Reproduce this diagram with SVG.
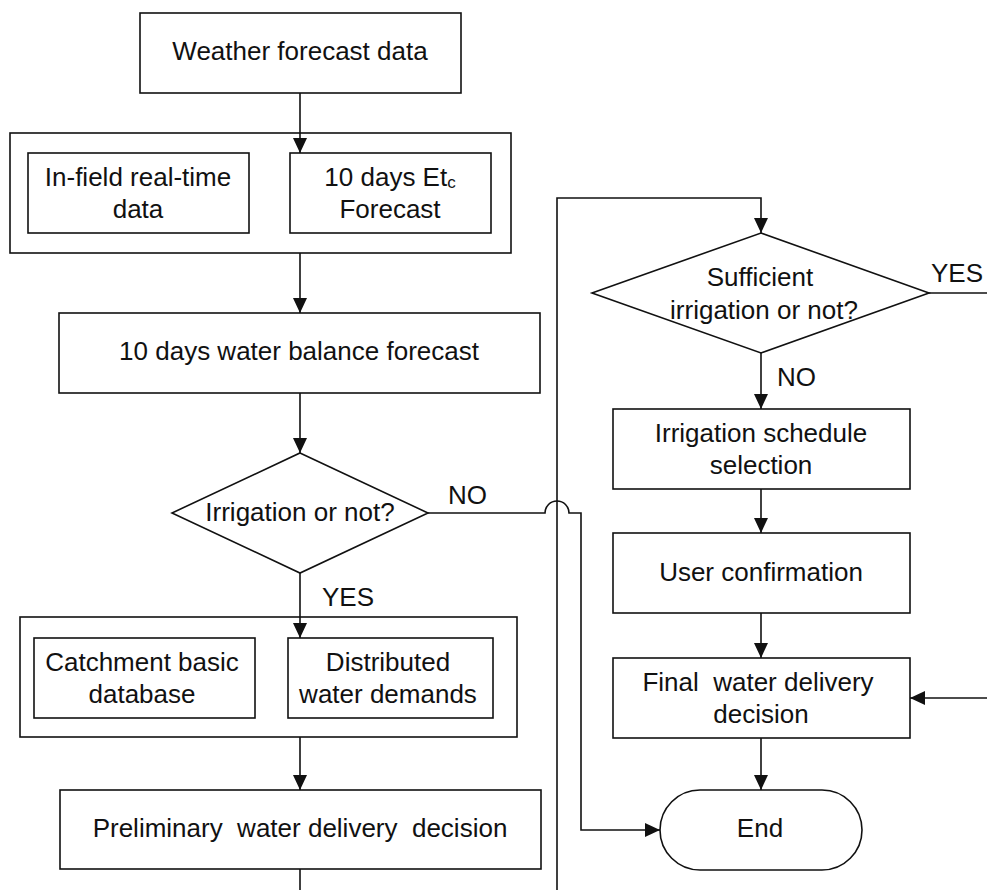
<svg xmlns="http://www.w3.org/2000/svg" width="987" height="890" viewBox="0 0 987 890">
<style>
.box{fill:#fff;stroke:#111;stroke-width:1.6}
.con{fill:none;stroke:#111;stroke-width:1.6}
text{font-family:"Liberation Sans",Arial,sans-serif;font-size:26px;fill:#111;text-anchor:middle;white-space:pre}
.lbl{text-anchor:start}
</style>
<defs>
<marker id="arr" markerUnits="userSpaceOnUse" markerWidth="16" markerHeight="14" refX="15" refY="7" orient="auto">
<path d="M0,0 L15,7 L0,14 z" fill="#111"/>
</marker>
</defs>
<rect width="987" height="890" fill="#fff"/>

<g id="weather">
<rect class="box" x="140" y="13" width="321" height="80"/>
<text x="300" y="60">Weather forecast data</text>
</g>
<g id="input-group">
<rect class="box" x="10" y="133" width="501" height="120"/>
</g>
<g id="infield">
<rect class="box" x="28" y="153" width="221" height="80"/>
<text x="138" y="186">In-field real-time</text>
<text x="138" y="218">data</text>
</g>
<g id="etc">
<rect class="box" x="290" y="153" width="201" height="80"/>
<text x="390" y="186">10 days Et<tspan font-size="17" dy="2">c</tspan></text>
<text x="390" y="218">Forecast</text>
</g>
<g id="balance">
<rect class="box" x="59" y="313" width="481" height="80"/>
<text x="299" y="360">10 days water balance forecast</text>
</g>
<g id="decision1">
<polygon class="box" points="300,453 428,513 300,573 172,513"/>
<text x="300" y="521">Irrigation or not?</text>
</g>
<g id="demand-group">
<rect class="box" x="20" y="617" width="497" height="120"/>
</g>
<g id="catchment">
<rect class="box" x="34" y="638" width="221" height="80"/>
<text x="142" y="671">Catchment basic</text>
<text x="142" y="703">database</text>
</g>
<g id="distributed">
<rect class="box" x="288" y="638" width="205" height="80"/>
<text x="388" y="671">Distributed</text>
<text x="388" y="703">water demands</text>
</g>
<g id="preliminary">
<rect class="box" x="60" y="790" width="481" height="79"/>
<text x="300" y="837">Preliminary  water delivery  decision</text>
</g>
<g id="decision2">
<polygon class="box" points="761,233 929,293 761,353 592,293"/>
<text x="760" y="286">Sufficient</text>
<text x="764" y="319">irrigation or not?</text>
</g>
<g id="schedule">
<rect class="box" x="613" y="409" width="297" height="80"/>
<text x="761" y="442">Irrigation schedule</text>
<text x="761" y="474">selection</text>
</g>
<g id="confirm">
<rect class="box" x="613" y="533" width="297" height="80"/>
<text x="761" y="581">User confirmation</text>
</g>
<g id="final">
<rect class="box" x="613" y="658" width="297" height="80"/>
<text x="758" y="691">Final  water delivery</text>
<text x="761" y="723">decision</text>
</g>
<g id="end">
<rect class="box" x="660" y="790" width="202" height="80" rx="40" ry="40"/>
<text x="760" y="837">End</text>
</g>

<g id="connectors">
<line class="con" x1="300" y1="93" x2="300" y2="153" marker-end="url(#arr)"/>
<line class="con" x1="300" y1="253" x2="300" y2="313" marker-end="url(#arr)"/>
<line class="con" x1="300" y1="393" x2="300" y2="453" marker-end="url(#arr)"/>
<line class="con" x1="300" y1="573" x2="300" y2="638" marker-end="url(#arr)"/>
<line class="con" x1="300" y1="737" x2="300" y2="790" marker-end="url(#arr)"/>
<line class="con" x1="300" y1="869" x2="300" y2="890"/>
<path class="con" d="M428,513 H545 A12,12 0 0 1 569,513 H581 V830 H660" marker-end="url(#arr)"/>
<path class="con" d="M557,890 V198 H761 V233" marker-end="url(#arr)"/>
<line class="con" x1="761" y1="353" x2="761" y2="409" marker-end="url(#arr)"/>
<line class="con" x1="761" y1="489" x2="761" y2="533" marker-end="url(#arr)"/>
<line class="con" x1="761" y1="613" x2="761" y2="658" marker-end="url(#arr)"/>
<line class="con" x1="761" y1="738" x2="761" y2="790" marker-end="url(#arr)"/>
<line class="con" x1="929" y1="293" x2="987" y2="293"/>
<line class="con" x1="987" y1="698" x2="910" y2="698" marker-end="url(#arr)"/>
<text class="lbl" x="448" y="504">NO</text>
<text class="lbl" x="322" y="606">YES</text>
<text class="lbl" x="931" y="282">YES</text>
<text class="lbl" x="777" y="386">NO</text>
</g>
</svg>
